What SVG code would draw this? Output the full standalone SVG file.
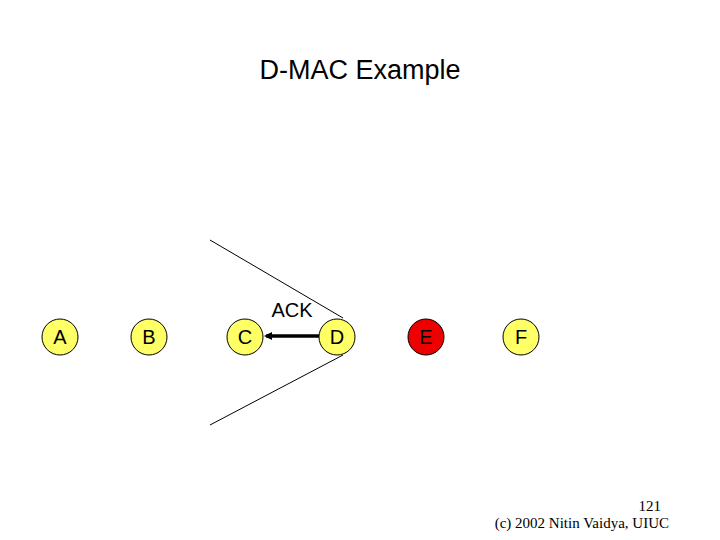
<svg xmlns="http://www.w3.org/2000/svg" width="720" height="540" viewBox="0 0 720 540">
<style>
.node{fill:#ffff66;stroke:#000;stroke-width:1}
.red{fill:#ee0000;stroke:#000;stroke-width:1}
.lbl{font-family:"Liberation Sans",Arial,sans-serif;font-size:20px;text-anchor:middle;fill:#000}
.foot{font-family:"Liberation Serif","Times New Roman",serif;font-size:15px;fill:#000}
</style>
<defs>
<marker id="ah" markerWidth="8" markerHeight="8" refX="6" refY="4" orient="auto" markerUnits="userSpaceOnUse">
<path d="M0,0 L8,4 L0,8 Z" fill="#000"/>
</marker>
</defs>
<rect width="720" height="540" fill="#fff"/>
<text x="360" y="79" font-family="Liberation Sans,Arial,sans-serif" font-size="27" text-anchor="middle">D-MAC Example</text>
<g id="connectors">
<line x1="210" y1="240" x2="343" y2="318" stroke="#000" stroke-width="1"/>
<line x1="343" y1="355" x2="210" y2="425" stroke="#000" stroke-width="1"/>
<line x1="319" y1="336" x2="266" y2="336" stroke="#000" stroke-width="3.5" marker-end="url(#ah)"/>
<text x="292" y="317" class="lbl">ACK</text>
</g>
<g id="A"><circle cx="60" cy="337" r="18" class="node"/><text x="60" y="344" class="lbl">A</text></g>
<g id="B"><circle cx="149" cy="337" r="18" class="node"/><text x="149" y="344" class="lbl">B</text></g>
<g id="C"><circle cx="245" cy="337" r="18" class="node"/><text x="245" y="344" class="lbl">C</text></g>
<g id="D"><circle cx="337" cy="337" r="18" class="node"/><text x="337" y="344" class="lbl">D</text></g>
<g id="E"><circle cx="426" cy="337" r="18" class="red"/><text x="426" y="344" class="lbl">E</text></g>
<g id="F"><circle cx="521" cy="337" r="18" class="node"/><text x="521" y="344" class="lbl">F</text></g>
<text x="661" y="511" class="foot" text-anchor="end">121</text>
<text x="669" y="528" class="foot" text-anchor="end">(c) 2002 Nitin Vaidya, UIUC</text>
</svg>
